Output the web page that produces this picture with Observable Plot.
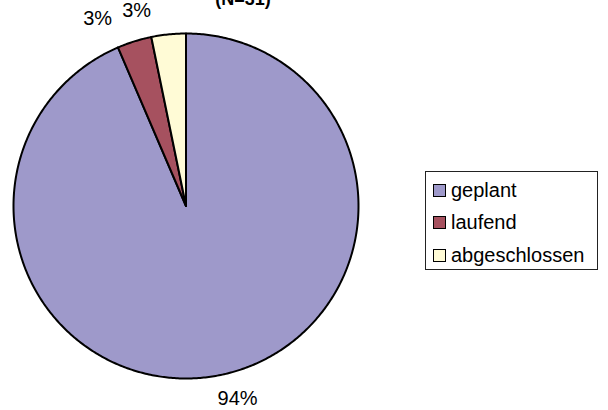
<!DOCTYPE html>
<html><head><meta charset="utf-8">
<script src="https://cdn.jsdelivr.net/npm/d3@7"></script>
<script src="https://cdn.jsdelivr.net/npm/@observablehq/plot@0.6"></script>
<style>
html,body{margin:0;padding:0;background:#fff;overflow:hidden}
#wrap{position:relative;width:608px;height:410px;font-family:"Liberation Sans",Arial,sans-serif}
#title{position:absolute;top:-11px;left:243px;transform:translateX(-50%);font-weight:bold;font-size:18px;line-height:20px;white-space:nowrap}
#legend{position:absolute;left:425px;top:171px;width:171px;height:97px;border:1px solid #222;background:#fff}
.item{position:absolute;left:7px;height:20px;display:flex;align-items:center;font-size:20px;white-space:nowrap}
.sw{width:11px;height:11px;border:1.5px solid #000;margin-right:5px;flex:none}
</style></head>
<body><div id="wrap"><div id="title">(N=31)</div><div id="chart"></div><div id="legend"></div></div>
<script>
const categories = ["geplant", "laufend", "abgeschlossen"];
const counts = [29, 1, 1];
const percentLabels = ["94%", "3%", "3%"];
const colors = ["#9E99CA", "#A6515F", "#FFFBD6"];

const arcs = d3.pie().sort(null).value((d, i) => counts[i])(categories);
const slicePts = [];
const labelRows = [];
arcs.forEach((a, i) => {
  slicePts.push({cat: categories[i], x: 0, y: 0});
  const n = Math.max(2, Math.ceil((a.endAngle - a.startAngle) / 0.01));
  for (let k = 0; k <= n; k++) {
    const t = a.startAngle + (a.endAngle - a.startAngle) * k / n;
    slicePts.push({cat: categories[i], x: Math.sin(t), y: Math.cos(t)});
  }
  const m = (a.startAngle + a.endAngle) / 2;
  labelRows.push({text: percentLabels[i], x: 1.14 * Math.sin(m), y: 1.14 * Math.cos(m), left: Math.sin(m) < 0});
});

const chart = Plot.plot({
  width: 608, height: 410, margin: 0,
  style: {fontFamily: '"Liberation Sans", Arial, sans-serif', background: "transparent"},
  x: {domain: [-1, 1], range: [13, 358], axis: null},
  y: {domain: [-1, 1], range: [378, 33], axis: null},
  color: {domain: categories, range: colors},
  marks: [
    Plot.line(slicePts, {x: "x", y: "y", z: "cat", fill: "cat", stroke: "#000", strokeWidth: 2, curve: "linear-closed", strokeLinejoin: "round"}),
    Plot.text(labelRows.filter(d => d.left), {x: "x", y: "y", text: "text", textAnchor: "end", dx: -15, fontSize: 20, fill: "#000"}),
    Plot.text(labelRows.filter(d => !d.left), {x: "x", y: "y", text: "text", textAnchor: "start", dx: -8, fontSize: 20, fill: "#000"})
  ]
});
document.getElementById("chart").appendChild(chart);

const legend = document.getElementById("legend");
categories.forEach((c, i) => {
  const it = document.createElement("div");
  it.className = "item";
  it.style.top = (8 + i * 32.5) + "px";
  const sw = document.createElement("span");
  sw.className = "sw";
  sw.style.background = colors[i];
  it.appendChild(sw);
  it.appendChild(document.createTextNode(c));
  legend.appendChild(it);
});
</script></body></html>
